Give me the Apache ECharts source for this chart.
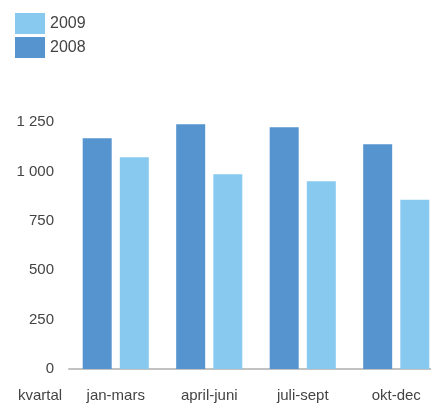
<!DOCTYPE html>
<html>
<head>
<meta charset="utf-8">
<script src="https://cdn.jsdelivr.net/npm/echarts@6/dist/echarts.min.js"></script>
<style>
  html, body { margin: 0; padding: 0; background: #fff; overflow: hidden; }
  /* the plot runs past the right edge in the original, so the canvas is a bit wider than the window */
  #chart { width: 443px; height: 403px; }
</style>
</head>
<body>
<div id="chart"></div>
<script>
// kvartal-data, 2008 och 2009
var categories = ['jan-mars', 'april-juni', 'juli-sept', 'okt-dec'];
var values2008 = [1168, 1238, 1223, 1137];
var values2009 = [1071, 986, 950, 856];
var yTicks = [0, 250, 500, 750, 1000, 1250];

var chart = echarts.init(document.getElementById('chart'));
var font = 'Liberation Sans, Arial, sans-serif';

var option = {
    animation: false,
    color: ['#5594cf', '#88caef'],
    textStyle: { fontFamily: font },
    legend: {
        data: ['2009', '2008'],
        orient: 'vertical',
        left: 15,
        top: 13,
        padding: 0,
        itemWidth: 30,
        itemHeight: 21,
        itemGap: 3,
        icon: 'rect',
        textStyle: { fontSize: 16, color: '#444', fontFamily: font }
    },
    grid: {
        left: 69,
        right: 0,
        top: 122,
        bottom: 34,
        containLabel: false
    },
    xAxis: {
        type: 'category',
        data: categories,
        axisTick: { show: false },
        axisLine: { lineStyle: { color: '#c2c2c2', width: 2 } },
        axisLabel: { fontSize: 15, color: '#444', margin: 19, fontFamily: font }
    },
    yAxis: {
        type: 'value',
        min: yTicks[0],
        max: yTicks[yTicks.length - 1],
        interval: 250,
        splitLine: { show: false },
        axisLine: { show: false },
        axisTick: { show: false },
        axisLabel: {
            fontSize: 15,
            color: '#444',
            margin: 15,
            fontFamily: font,
            formatter: function (v) {
                return String(v).replace(/\B(?=(\d{3})+(?!\d))/g, ' ');
            }
        }
    },
    graphic: [{
        type: 'text',
        left: 18,
        top: 388,
        style: { text: 'kvartal', fontSize: 15, fill: '#444', fontFamily: font }
    }],
    series: [
        {
            name: '2008',
            type: 'bar',
            barWidth: 29,
            barGap: '28%',
            data: values2008
        },
        {
            name: '2009',
            type: 'bar',
            barWidth: 29,
            data: values2009
        }
    ]
};
chart.setOption(option);
</script>
</body>
</html>
